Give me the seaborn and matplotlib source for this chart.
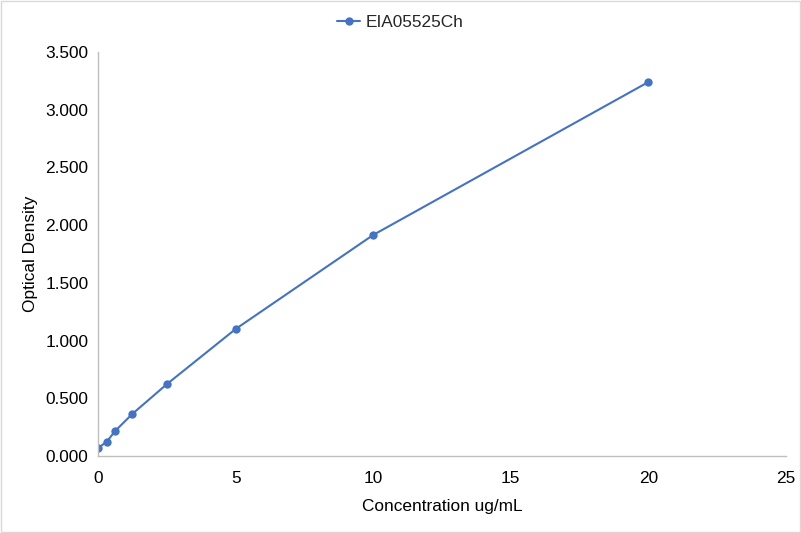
import matplotlib
matplotlib.use("Agg")
import matplotlib.pyplot as plt
import matplotlib.ticker as mticker
import seaborn as sns
import pandas as pd

concentration = [0, 0.3125, 0.625, 1.25, 2.5, 5, 10, 20]
optical_density = [0.069, 0.122, 0.217, 0.365, 0.622, 1.100, 1.915, 3.240]
series_name = "EIA05525Ch"
x_ticks = [0, 5, 10, 15, 20, 25]
y_ticks = [0, 0.5, 1.0, 1.5, 2.0, 2.5, 3.0, 3.5]

sns.set_theme(style="white")
plt.rcParams['font.family'] = ['Liberation Sans', 'DejaVu Sans']

df = pd.DataFrame({"x": concentration, "y": optical_density, "s": series_name})

W, H = 801, 533
fs = 12.4
fig = plt.figure(figsize=(W / 100, H / 100), dpi=100)
ax = fig.add_axes([98 / W, 1 - 456 / H, (786 - 98) / W, (456 - 52) / H])

color = "#4472C4"
sns.lineplot(data=df, x="x", y="y", hue="s", palette=[color], marker="o",
             markersize=6, markeredgewidth=0, linewidth=1.5, ax=ax)

ax.set_xlim(0, 25)
ax.set_ylim(0, 3.5)
ax.set_xticks(x_ticks)
ax.set_yticks(y_ticks)
ax.yaxis.set_major_formatter(mticker.FormatStrFormatter("%.3f"))
ax.tick_params(axis="both", labelsize=fs, colors="#000000", length=0)
ax.tick_params(axis="y", pad=7)
ax.tick_params(axis="x", pad=11)
for sp in ["top", "right"]:
    ax.spines[sp].set_visible(False)
for sp in ["left", "bottom"]:
    ax.spines[sp].set_color("#BFBFBF")
    ax.spines[sp].set_linewidth(1)
ax.grid(False)
ax.set_xlabel("Concentration ug/mL", fontsize=fs, color="#000000", labelpad=9)
ax.set_ylabel("Optical Density", fontsize=fs, color="#000000", labelpad=5)

ax.get_legend().remove()
handles, labels = ax.get_legend_handles_labels()
leg = fig.legend(handles, labels, loc="center", bbox_to_anchor=(0.5, 1 - 22 / H),
                 frameon=False, fontsize=fs, handlelength=1.3, handletextpad=0.35,
                 borderaxespad=0, borderpad=0)

fig.patches.append(plt.Rectangle((0.001, 0.001), 0.998, 0.998, transform=fig.transFigure,
                                 fill=False, edgecolor="#D9D9D9", linewidth=1))
fig.savefig("out.png", dpi=100, facecolor="white")
